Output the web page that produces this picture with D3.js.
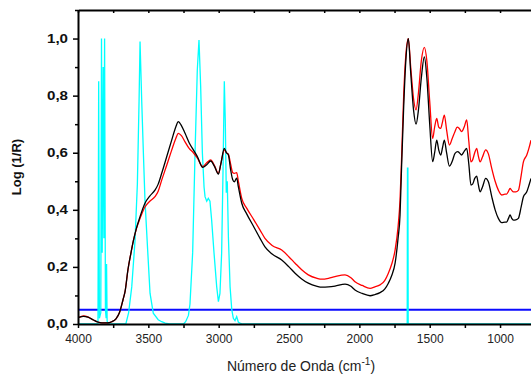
<!DOCTYPE html>
<html>
<head>
<meta charset="utf-8">
<script src="https://cdn.jsdelivr.net/npm/d3@7"></script>
<style>
  body { margin: 0; background: #fff; }
  svg { display: block; font-family: "Liberation Sans", Arial, sans-serif; }
</style>
</head>
<body>
<svg id="chart" width="531" height="376"></svg>
<script>
// [wavenumber (cm-1), log(1/R)]
const blackSeries = [
  [4000, 0.022], [3960, 0.027], [3930, 0.024], [3890, 0.014], [3860, 0.007], [3830, 0.004],
  [3790, 0.004], [3760, 0.008], [3730, 0.018], [3705, 0.040], [3680, 0.085], [3665, 0.115],
  [3645, 0.19], [3625, 0.245], [3607, 0.29], [3585, 0.335], [3559, 0.376], [3524, 0.423],
  [3490, 0.448], [3453, 0.469], [3430, 0.49], [3405, 0.528], [3370, 0.585], [3334, 0.644],
  [3305, 0.69], [3287, 0.709], [3265, 0.695], [3239, 0.668], [3210, 0.635], [3180, 0.61],
  [3150, 0.585], [3114, 0.549], [3085, 0.558], [3057, 0.571], [3030, 0.552], [3002, 0.525],
  [2985, 0.56], [2960, 0.615], [2945, 0.60], [2931, 0.592], [2915, 0.54], [2900, 0.505],
  [2889, 0.498], [2872, 0.511], [2860, 0.48], [2836, 0.423], [2800, 0.385], [2750, 0.34],
  [2706, 0.30], [2671, 0.27], [2620, 0.245], [2552, 0.224], [2500, 0.20], [2457, 0.178],
  [2410, 0.158], [2363, 0.143], [2300, 0.132], [2268, 0.129], [2220, 0.13], [2173, 0.133],
  [2102, 0.14], [2060, 0.132], [2031, 0.119], [1980, 0.107], [1924, 0.099], [1890, 0.103],
  [1853, 0.11], [1820, 0.122], [1794, 0.143], [1770, 0.17], [1746, 0.213], [1725, 0.30],
  [1711, 0.38], [1700, 0.55], [1685, 0.76], [1670, 0.92], [1652, 1.0], [1635, 0.88],
  [1615, 0.75], [1597, 0.70], [1580, 0.75], [1560, 0.86], [1538, 0.936], [1520, 0.86],
  [1500, 0.70], [1479, 0.569], [1465, 0.60], [1450, 0.644], [1436, 0.61], [1422, 0.592],
  [1408, 0.62], [1396, 0.644], [1380, 0.60], [1360, 0.553], [1340, 0.57], [1320, 0.598],
  [1300, 0.604], [1290, 0.60], [1273, 0.592], [1255, 0.605], [1237, 0.615], [1222, 0.56],
  [1207, 0.487], [1195, 0.49], [1180, 0.51], [1166, 0.518], [1155, 0.49], [1142, 0.463],
  [1125, 0.48], [1102, 0.51], [1083, 0.498], [1059, 0.446], [1035, 0.40], [1012, 0.37],
  [988, 0.355], [965, 0.357], [953, 0.357], [940, 0.37], [929, 0.382], [917, 0.37],
  [905, 0.364], [888, 0.365], [870, 0.37], [850, 0.41], [834, 0.446], [810, 0.463],
  [795, 0.485], [780, 0.51]
];

const redSeries = [
  [4000, 0.022], [3960, 0.028], [3930, 0.025], [3890, 0.014], [3860, 0.007], [3830, 0.004],
  [3790, 0.004], [3760, 0.008], [3730, 0.018], [3705, 0.040], [3680, 0.085], [3665, 0.115],
  [3645, 0.19], [3625, 0.245], [3607, 0.29], [3585, 0.333], [3559, 0.37], [3524, 0.41],
  [3490, 0.43], [3453, 0.446], [3430, 0.465], [3405, 0.504], [3370, 0.555], [3334, 0.609],
  [3305, 0.65], [3287, 0.668], [3265, 0.66], [3239, 0.638], [3210, 0.615], [3180, 0.60],
  [3150, 0.58], [3114, 0.552], [3085, 0.565], [3057, 0.575], [3030, 0.555], [3002, 0.528],
  [2985, 0.56], [2960, 0.61], [2945, 0.60], [2931, 0.595], [2915, 0.56], [2900, 0.53],
  [2889, 0.528], [2872, 0.53], [2860, 0.50], [2836, 0.44], [2800, 0.405], [2750, 0.365],
  [2706, 0.329], [2671, 0.30], [2620, 0.275], [2552, 0.259], [2500, 0.235], [2457, 0.213],
  [2410, 0.19], [2363, 0.172], [2300, 0.16], [2268, 0.157], [2220, 0.16], [2173, 0.166],
  [2102, 0.172], [2060, 0.162], [2031, 0.148], [1980, 0.135], [1924, 0.125], [1890, 0.13],
  [1853, 0.137], [1820, 0.152], [1794, 0.178], [1770, 0.21], [1746, 0.259], [1725, 0.34],
  [1711, 0.434], [1700, 0.58], [1685, 0.80], [1670, 0.94], [1652, 1.0], [1635, 0.90],
  [1615, 0.79], [1597, 0.75], [1580, 0.81], [1560, 0.92], [1538, 0.969], [1520, 0.92],
  [1500, 0.78], [1479, 0.65], [1465, 0.69], [1450, 0.72], [1436, 0.69], [1422, 0.685],
  [1408, 0.71], [1396, 0.732], [1380, 0.68], [1360, 0.627], [1340, 0.65], [1320, 0.674],
  [1305, 0.69], [1290, 0.685], [1273, 0.674], [1255, 0.69], [1237, 0.715], [1222, 0.64],
  [1207, 0.568], [1195, 0.575], [1180, 0.60], [1166, 0.615], [1155, 0.59], [1142, 0.568],
  [1125, 0.585], [1102, 0.61], [1083, 0.596], [1059, 0.545], [1035, 0.50], [1012, 0.469],
  [988, 0.452], [965, 0.455], [953, 0.455], [940, 0.465], [929, 0.475], [917, 0.468],
  [905, 0.463], [888, 0.463], [870, 0.468], [850, 0.52], [834, 0.568], [810, 0.592],
  [795, 0.615], [780, 0.644]
];

const cyanSeries = [
  [4000, 0], [3858, 0], [3853, 0.85], [3848, 0.02], [3838, 0.04], [3833, 1.0], [3828, 0.25],
  [3821, 0.9], [3816, 0.3], [3811, 1.0], [3805, 0.05], [3800, 0.02], [3797, 0.21], [3793, 0.01],
  [3785, 0], [3660, 0], [3640, 0.04], [3618, 0.13], [3595, 0.29], [3578, 0.49], [3566, 0.78],
  [3559, 0.99], [3547, 0.78], [3536, 0.61], [3524, 0.434], [3505, 0.26], [3488, 0.108],
  [3465, 0.038], [3430, 0.015], [3405, 0.008], [3380, 0.003], [3350, 0], [3250, 0],
  [3235, 0.008], [3215, 0.03], [3204, 0.07], [3185, 0.25], [3168, 0.6], [3152, 0.89],
  [3140, 0.995], [3128, 0.83], [3116, 0.6], [3104, 0.48], [3097, 0.446], [3085, 0.43],
  [3074, 0.44], [3062, 0.43], [3050, 0.364], [3033, 0.248], [3014, 0.13], [3002, 0.078],
  [2991, 0.107], [2979, 0.248], [2969, 0.54], [2960, 0.85], [2953, 0.71], [2946, 0.46],
  [2939, 0.50], [2931, 0.306], [2919, 0.13], [2907, 0.05], [2896, 0.02], [2884, 0.012],
  [2872, 0.026], [2860, 0.006], [2848, 0.003], [2830, 0], [1660, 0], [1658, 0.546],
  [1655, 0.546], [1653, 0], [780, 0]
];

const blueLevel = 0.05;

const xTickValues = d3.range(4000, 749, -250);
const yMajorTicks = [0, 0.2, 0.4, 0.6, 0.8, 1.0];
const yMinorTicks = [0.1, 0.3, 0.5, 0.7, 0.9, 1.1];

const svg = d3.select("#chart");
const margin = { top: 10, right: 0, bottom: 52, left: 78 };
const width = 531, height = 376;
const plotBottom = height - margin.bottom;

const x = d3.scaleLinear().domain([4000, 780]).range([margin.left, width - margin.right]);
const y = d3.scaleLinear().domain([0, 1.1]).range([plotBottom, margin.top]);

svg.append("defs").append("clipPath").attr("id", "plotClip")
  .append("rect")
  .attr("x", margin.left).attr("y", margin.top - 2)
  .attr("width", width - margin.left).attr("height", plotBottom - margin.top + 2);

const plot = svg.append("g").attr("clip-path", "url(#plotClip)");

// blue baseline
plot.append("line")
  .attr("x1", x(4000)).attr("x2", x(780))
  .attr("y1", y(blueLevel)).attr("y2", y(blueLevel))
  .attr("stroke", "#0a0aff")
  .attr("stroke-width", 2);

const lineSmooth = d3.line()
  .x(d => x(d[0]))
  .y(d => y(d[1]))
  .curve(d3.curveMonotoneX);

const lineSharp = d3.line()
  .x(d => x(d[0]))
  .y(d => y(d[1]))
  .curve(d3.curveLinear);

plot.append("path")
  .datum(cyanSeries)
  .attr("d", lineSharp)
  .attr("fill", "none")
  .attr("stroke", "#00ffff")
  .attr("stroke-width", 1.3);

plot.append("path")
  .datum(redSeries)
  .attr("d", lineSmooth)
  .attr("fill", "none")
  .attr("stroke", "#ff0000")
  .attr("stroke-width", 1.3);

plot.append("path")
  .datum(blackSeries)
  .attr("d", lineSmooth)
  .attr("fill", "none")
  .attr("stroke", "#000")
  .attr("stroke-width", 1.3);

// bottom axis
const xAxis = svg.append("g")
  .attr("transform", `translate(0,${plotBottom})`)
  .call(d3.axisBottom(x)
    .tickValues(xTickValues)
    .tickSize(4)
    .tickPadding(6)
    .tickSizeOuter(0)
    .tickFormat(d => d % 500 === 0 ? d : ""));
xAxis.select(".domain").attr("stroke-width", 2);
xAxis.selectAll(".tick line").attr("stroke-width", 1.5);
xAxis.selectAll(".tick text")
  .attr("font-size", 12)
  .attr("fill", "#222")
  .attr("font-family", "Liberation Sans, Arial, sans-serif");

// top axis
const topAxis = svg.append("g")
  .attr("transform", `translate(0,${margin.top})`)
  .call(d3.axisBottom(x)
    .tickValues(xTickValues)
    .tickSize(3)
    .tickSizeOuter(0)
    .tickFormat(""));
topAxis.select(".domain").attr("stroke-width", 2);
topAxis.selectAll(".tick line").attr("stroke-width", 1.5);

// left axis
const fmt = d => d3.format(".1f")(d).replace(".", ",");
const yAxis = svg.append("g")
  .attr("transform", `translate(${margin.left},0)`)
  .call(d3.axisLeft(y)
    .tickValues(yMajorTicks)
    .tickSize(5)
    .tickPadding(5)
    .tickSizeOuter(0)
    .tickFormat(fmt));
yAxis.select(".domain").attr("stroke-width", 2);
yAxis.selectAll(".tick line").attr("stroke-width", 1.5);
yAxis.selectAll(".tick text")
  .attr("font-size", 12)
  .attr("font-weight", "bold")
  .attr("fill", "#111")
  .attr("textLength", 21)
  .attr("lengthAdjust", "spacingAndGlyphs")
  .attr("font-family", "Liberation Sans, Arial, sans-serif");

svg.append("g")
  .attr("transform", `translate(${margin.left},0)`)
  .call(d3.axisLeft(y).tickValues(yMinorTicks).tickSize(3).tickFormat(""))
  .call(g => g.select(".domain").remove())
  .selectAll(".tick line").attr("stroke-width", 1.5);

// axis titles
const xTitle = svg.append("text")
  .attr("x", 301)
  .attr("y", 371)
  .attr("text-anchor", "middle")
  .attr("font-size", 14)
  .attr("fill", "#222");
xTitle.append("tspan").text("Número de Onda (cm");
xTitle.append("tspan").attr("font-size", 10).attr("dy", -6).text("-1");
xTitle.append("tspan").attr("dy", 6).text(")");

svg.append("text")
  .attr("transform", "translate(21,167) rotate(-90)")
  .attr("text-anchor", "middle")
  .attr("font-size", 13)
  .attr("font-weight", "bold")
  .attr("fill", "#111")
  .text("Log (1/R)");
</script>
</body>
</html>
